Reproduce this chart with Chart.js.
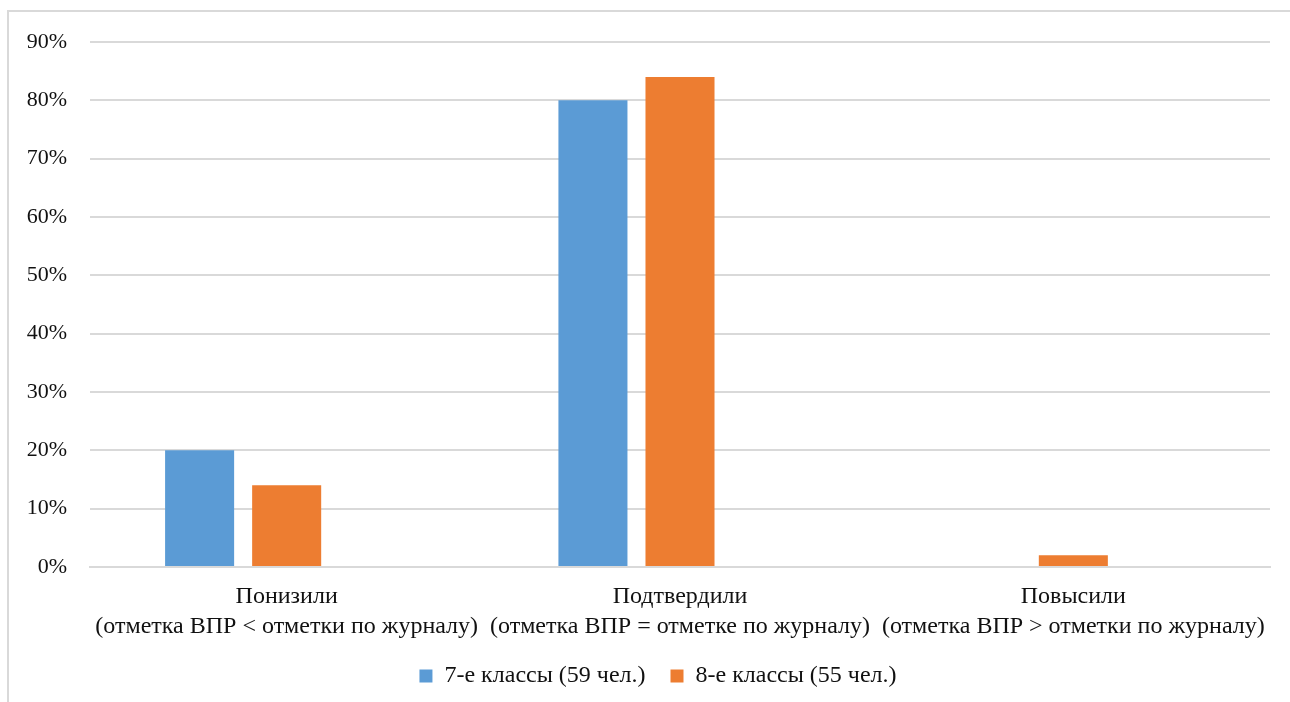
<!DOCTYPE html>
<html>
<head>
<meta charset="utf-8">
<script src="https://cdn.jsdelivr.net/npm/chart.js@4/dist/chart.umd.min.js"></script>
<style>
  html, body { margin: 0; padding: 0; background: #fff; }
  #wrap { position: relative; width: 1290px; height: 702px; overflow: hidden; }
  #frame { position: absolute; left: 7px; top: 10px; width: 1400px; height: 800px;
           border-left: 2px solid #d9d9d9; border-top: 2px solid #d9d9d9; }
  #grafico { position: absolute; left: 0; top: 0; }
</style>
</head>
<body>
<div id="wrap">
  <div id="frame"></div>
  <canvas id="grafico" width="1290" height="702"></canvas>
</div>
<script>
const categorias = [
    ['Понизили', '(отметка ВПР < отметки по журналу)'],
    ['Подтвердили', '(отметка ВПР = отметке по журналу)'],
    ['Повысили', '(отметка ВПР > отметки по журналу)']
];
const serie7 = [20, 80, 0];
const serie8 = [14, 84, 2];
const vazio = [null, null, null];  // empty third series, keeps the Excel spacing
const nomes = ['7-е классы (59 чел.)', '8-е классы (55 чел.)'];
const ticksY = [0, 10, 20, 30, 40, 50, 60, 70, 80, 90];

const familia = '"Liberation Serif", "Times New Roman", serif';
const fonteEixo = { family: familia, size: 22 };
const fonteTexto = { family: familia, size: 24, lineHeight: 1.25 };

// legend in the original sits a bit right of centre
const desvioLegenda = {
    id: 'desvioLegenda',
    afterLayout(chart) {
        chart.legend.left += 23;
        chart.legend.right += 23;
    }
};

new Chart(document.getElementById('grafico'), {
    type: 'bar',
    data: {
        labels: categorias,
        datasets: [
            { label: nomes[0], data: serie7, backgroundColor: '#5B9BD5' },
            { label: nomes[1], data: serie8, backgroundColor: '#ED7D31' },
            { label: '', data: vazio, backgroundColor: 'rgba(0,0,0,0)' }
        ]
    },
    options: {
        responsive: false,
        animation: false,
        datasets: { bar: { categoryPercentage: 0.664, barPercentage: 0.793 } },
        layout: { padding: { top: 42, right: 20, bottom: 4, left: 0 } },
        scales: {
            x: {
                grid: { display: false },
                border: { display: true, color: '#d9d9d9', width: 2 },
                ticks: { color: '#111', font: fonteTexto, padding: 7, maxRotation: 0, autoSkip: false },
                afterFit: (scale) => { scale.height = 72; }
            },
            y: {
                min: 0,
                max: 90,
                afterBuildTicks: (scale) => { scale.ticks = ticksY.map(v => ({ value: v })); },
                grid: { color: '#d9d9d9', lineWidth: 2, drawTicks: false },
                border: { display: false },
                ticks: { color: '#111', font: fonteEixo, padding: 23, callback: v => v + '%' },
                afterFit: (scale) => { scale.width = 90; }
            }
        },
        plugins: {
            tooltip: { enabled: false },
            legend: {
                position: 'bottom',
                labels: {
                    color: '#111',
                    font: fonteTexto,
                    boxWidth: 13,
                    boxHeight: 13,
                    padding: 25,
                    filter: item => item.text !== ''
                }
            }
        }
    },
    plugins: [desvioLegenda]
});
</script>
</body>
</html>
